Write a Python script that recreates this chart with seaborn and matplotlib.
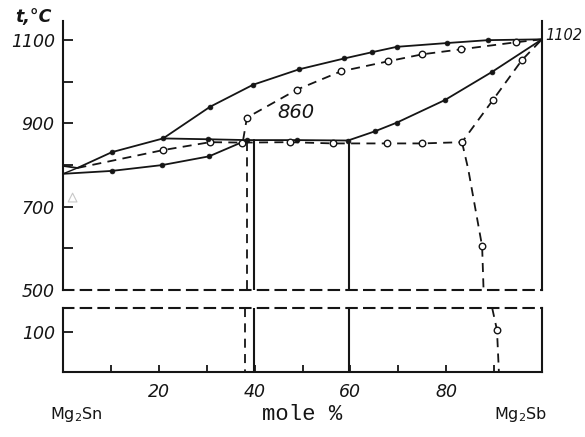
import matplotlib
matplotlib.use("Agg")
import matplotlib.pyplot as plt
import seaborn as sns

# ---- data: composition (mole % Mg2Sb) and temperature (°C) ----
liq_x = [0, 3, 10.2, 20.9, 30.7, 39.7, 49.3, 58.7, 64.5, 69.7, 80.1, 88.7, 100]
liq_t = [798, 793, 831, 864, 940, 993, 1030, 1056, 1071, 1084, 1093, 1100, 1102]
liq_dot_x = [10.2, 20.9, 30.7, 39.7, 49.3, 58.7, 64.5, 69.7, 80.1, 88.7]
liq_dot_t = [831, 864, 940, 993, 1030, 1056, 1071, 1084, 1093, 1100]

dash_up_x = [37.6, 38.4, 48.8, 58.0, 67.8, 75.0, 83.1, 94.6, 100]
dash_up_t = [860, 914, 981, 1025, 1049, 1066, 1078, 1095, 1102]
dash_up_cx = [38.4, 48.8, 58.0, 67.8, 75.0, 83.1, 94.6]
dash_up_ct = [914, 981, 1025, 1049, 1066, 1078, 1095]

dash_mid_x = [3, 20.9, 30.7, 37.4, 47.4, 56.4, 67.6, 75.0, 83.3, 89.8, 95.8, 100]
dash_mid_t = [793, 836, 855, 854, 855, 852, 852, 852, 855, 957, 1052, 1102]
dash_mid_cx = [20.9, 30.7, 37.4, 47.4, 56.4, 67.6, 75.0, 83.3, 89.8, 95.8]
dash_mid_ct = [836, 855, 854, 855, 852, 852, 852, 855, 957, 1052]

eut_x = [20.9, 30.3, 38.4, 48.9, 59.5]
eut_t = [864, 862, 860, 860, 859]

sol_sn_x = [0, 10.2, 20.7, 30.5, 38.4]
sol_sn_t = [779, 786, 800, 821, 860]

sol_sb_x = [59.5, 65.1, 69.7, 79.7, 89.6, 100]
sol_sb_t = [859, 881, 902, 956, 1024, 1102]

v_solid_40 = 39.8
v_dash_38_top = 38.4
v_dash_38_bot = 38.0
v_solid_60 = 59.7

decomp_top_x = [83.3, 84.6, 87.5, 87.8]
decomp_top_t = [855, 790, 605, 500]
decomp_bot_x = [89.6, 90.6, 91.0]
decomp_bot_t = [160, 105, 0]
decomp_cx = [87.5]
decomp_ct = [605]
decomp_bcx = [90.6]
decomp_bct = [105]

y_top_ticks = [500, 600, 700, 800, 900, 1000, 1100]
y_top_labels = ["500", "", "700", "", "900", "", "1100"]
x_ticks = [10, 20, 30, 40, 50, 60, 70, 80, 90]
x_labels = ["", "20", "", "40", "", "60", "", "80", ""]

# ---- style ----
sns.set_style("white")
plt.rcParams["font.family"] = ["DejaVu Sans"]
INK = "#151515"
DASH = (0, (5, 3.5))
LW = 1.3

fig = plt.figure(figsize=(5.85, 4.37), dpi=100)
W, H = 585.0, 437.0
ax1 = fig.add_axes([63 / W, 1 - 290 / H, 479 / W, 269 / H])
ax2 = fig.add_axes([63 / W, 1 - 372 / H, 479 / W, 64 / H])


def line(ax, xs, ys, dashed=False, lw=LW):
    kw = dict(linestyle=DASH) if dashed else {}
    sns.lineplot(x=xs, y=ys, sort=False, estimator=None, ax=ax,
                 color=INK, lw=lw, **kw)


def dots(ax, xs, ys):
    sns.scatterplot(x=xs, y=ys, ax=ax, color=INK, s=12, edgecolor=INK,
                    linewidth=0.5, zorder=5)


def circles(ax, xs, ys):
    sns.scatterplot(x=xs, y=ys, ax=ax, facecolor="white", s=22,
                    edgecolor=INK, linewidth=1.0, zorder=5)


# top panel curves
line(ax1, liq_x, liq_t)
dots(ax1, liq_dot_x, liq_dot_t)
line(ax1, dash_up_x, dash_up_t, dashed=True)
circles(ax1, dash_up_cx, dash_up_ct)
line(ax1, dash_mid_x, dash_mid_t, dashed=True)
circles(ax1, dash_mid_cx, dash_mid_ct)
line(ax1, eut_x, eut_t)
dots(ax1, eut_x[1:], eut_t[1:])
line(ax1, sol_sn_x, sol_sn_t)
dots(ax1, sol_sn_x[1:4], sol_sn_t[1:4])
line(ax1, sol_sb_x, sol_sb_t)
dots(ax1, sol_sb_x[1:5], sol_sb_t[1:5])
line(ax1, [0, 3], [779, 793], lw=1.0)

line(ax1, [v_solid_40, v_solid_40], [860, 500], lw=1.5)
line(ax1, [v_dash_38_top, v_dash_38_top], [855, 500], dashed=True)
line(ax1, [v_solid_60, v_solid_60], [859, 500], lw=1.5)
line(ax1, decomp_top_x, decomp_top_t, dashed=True)
circles(ax1, decomp_cx, decomp_ct)

sns.scatterplot(x=[2], y=[722], ax=ax1, marker="^", facecolor="none",
                edgecolor="#c8c8c8", s=40, linewidth=0.8)

# bottom panel
line(ax2, [v_solid_40, v_solid_40], [160, 0], lw=1.5)
line(ax2, [v_dash_38_bot, v_dash_38_bot], [160, 0], dashed=True)
line(ax2, [v_solid_60, v_solid_60], [160, 0], lw=1.5)
line(ax2, decomp_bot_x, decomp_bot_t, dashed=True)
circles(ax2, decomp_bcx, decomp_bct)

# axes formatting
ax1.set_xlim(0, 100)
ax1.set_ylim(500, 1146)
ax2.set_xlim(0, 100)
ax2.set_ylim(0, 160)

for ax in (ax1, ax2):
    for sp in ax.spines.values():
        sp.set_color(INK)
        sp.set_linewidth(1.5)
    ax.set_facecolor("none")
    ax.set_xlabel("")
    ax.set_ylabel("")

ax1.spines["top"].set_visible(False)
ax1.spines["bottom"].set_linestyle(DASH)
ax2.spines["top"].set_linestyle(DASH)

lab_font = dict(fontsize=12.5, fontstyle="italic", color=INK)

ax1.set_xticks([])
ax1.set_yticks(y_top_ticks)
ax1.set_yticklabels(y_top_labels, **lab_font)
ax1.tick_params(axis="y", direction="in", length=7, width=1.3, pad=6,
                colors=INK, left=True)

ax2.set_yticks([100])
ax2.set_yticklabels(["100"], **lab_font)
ax2.tick_params(axis="y", direction="in", length=7, width=1.3, pad=6,
                colors=INK, left=True)
ax2.set_xticks(x_ticks)
ax2.set_xticklabels(x_labels, **lab_font)
ax2.tick_params(axis="x", direction="in", length=5, width=1.3, pad=8,
                colors=INK, bottom=True)

# text annotations
fig.text(15 / W, 1 - 17 / H, "t,°C", fontsize=12.5, fontstyle="italic",
         fontweight="bold", color=INK, va="center", ha="left")
fig.text(545 / W, 1 - 35 / H, "1102", fontsize=10.5, fontstyle="italic",
         color=INK, va="center", ha="left")
fig.text(296 / W, 1 - 112 / H, "860", fontsize=14, fontstyle="italic",
         color=INK, va="center", ha="center")
fig.text(76 / W, 1 - 414 / H, "Mg$_2$Sn", fontsize=11.5, color=INK,
         va="center", ha="center")
fig.text(521 / W, 1 - 414 / H, "Mg$_2$Sb", fontsize=11.5, color=INK,
         va="center", ha="center")
fig.text(302 / W, 1 - 414 / H, "mole %", fontsize=16,
         family=["Liberation Mono", "DejaVu Sans Mono"], color=INK,
         va="center", ha="center")

fig.savefig("out.png", dpi=100, facecolor="white")
